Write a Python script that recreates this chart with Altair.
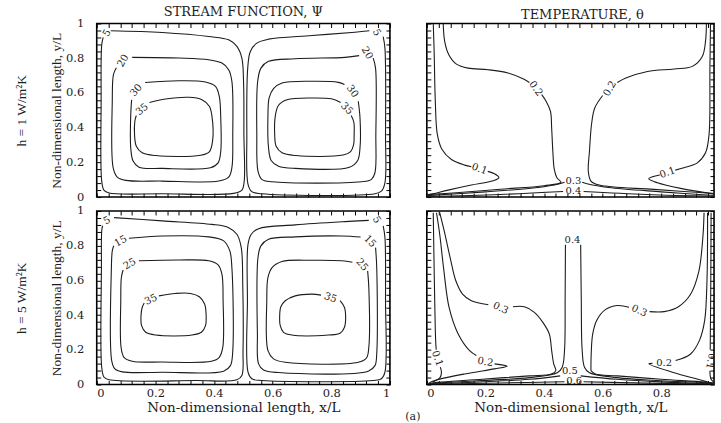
import altair as alt
import pandas as pd

# ---------------------------------------------------------------------------
# Axis ticks (non-dimensional coordinates)
MAJOR_TICKS = [0, 0.2, 0.4, 0.6, 0.8, 1]
MINOR_TICKS = [round(k * 0.04, 2) for k in range(26)]

# ---------------------------------------------------------------------------
# Stream function, h = 1 W/m2K  (left cell, right cell)  -- (x/L, y/L) points
psi1_l5 = [(0.048, 0.958), (0.223, 0.948), (0.382, 0.925), (0.450, 0.906), (0.478, 0.868),
           (0.495, 0.801), (0.501, 0.648), (0.502, 0.360), (0.503, 0.092), (0.495, 0.040),
           (0.467, 0.021), (0.223, 0.019), (0.042, 0.023), (0.025, 0.038), (0.017, 0.092),
           (0.015, 0.552), (0.017, 0.877), (0.022, 0.920)]
psi1_l20 = [(0.121, 0.805), (0.280, 0.801), (0.382, 0.791), (0.427, 0.772), (0.450, 0.734),
            (0.461, 0.667), (0.464, 0.360), (0.461, 0.169), (0.450, 0.115), (0.416, 0.092),
            (0.223, 0.092), (0.099, 0.096), (0.070, 0.115), (0.056, 0.169), (0.053, 0.552),
            (0.057, 0.705), (0.067, 0.745)]
psi1_l30 = [(0.165, 0.660), (0.280, 0.670), (0.371, 0.663), (0.405, 0.638), (0.418, 0.580),
            (0.423, 0.456), (0.423, 0.264), (0.414, 0.197), (0.388, 0.169), (0.223, 0.165),
            (0.144, 0.172), (0.124, 0.207), (0.116, 0.284), (0.116, 0.475), (0.119, 0.560)]
psi1_l35 = [(0.180, 0.545), (0.235, 0.565), (0.314, 0.575), (0.359, 0.561), (0.384, 0.523),
            (0.393, 0.466), (0.395, 0.322), (0.384, 0.261), (0.354, 0.241), (0.201, 0.239),
            (0.155, 0.255), (0.135, 0.293), (0.129, 0.360), (0.130, 0.437), (0.135, 0.470)]
psi1_r5 = [(0.977, 0.925), (0.983, 0.858), (0.985, 0.360), (0.983, 0.082), (0.971, 0.034),
           (0.949, 0.019), (0.563, 0.019), (0.529, 0.031), (0.516, 0.073), (0.512, 0.360),
           (0.515, 0.743), (0.524, 0.839), (0.546, 0.887), (0.586, 0.910), (0.734, 0.931),
           (0.881, 0.950), (0.930, 0.958)]
psi1_r20 = [(0.943, 0.801), (0.951, 0.743), (0.952, 0.360), (0.949, 0.140), (0.937, 0.102),
            (0.903, 0.088), (0.598, 0.088), (0.563, 0.102), (0.550, 0.149), (0.546, 0.360),
            (0.549, 0.667), (0.560, 0.743), (0.586, 0.782), (0.677, 0.797), (0.847, 0.805),
            (0.895, 0.815)]
psi1_r30 = [(0.892, 0.552), (0.898, 0.456), (0.898, 0.284), (0.890, 0.211), (0.862, 0.172),
            (0.677, 0.165), (0.620, 0.178), (0.595, 0.211), (0.586, 0.284), (0.584, 0.475),
            (0.588, 0.571), (0.603, 0.625), (0.632, 0.657), (0.734, 0.667), (0.824, 0.661),
            (0.845, 0.648)]
psi1_r35 = [(0.868, 0.470), (0.877, 0.430), (0.878, 0.360), (0.876, 0.300), (0.866, 0.262),
            (0.840, 0.242), (0.680, 0.239), (0.632, 0.255), (0.612, 0.293), (0.607, 0.360),
            (0.609, 0.466), (0.620, 0.529), (0.649, 0.561), (0.734, 0.571), (0.800, 0.566),
            (0.832, 0.545)]
psi1_labels = [("5", 0.035, 0.945, 300), ("20", 0.090, 0.785, 300), ("30", 0.135, 0.615, 310),
               ("35", 0.155, 0.505, 320), ("5", 0.955, 0.948, 60), ("20", 0.922, 0.830, 60),
               ("30", 0.872, 0.610, 55), ("35", 0.853, 0.510, 45)]

# Stream function, h = 5 W/m2K
psi5_l5 = [(0.059, 0.962), (0.223, 0.943), (0.393, 0.923), (0.450, 0.904), (0.478, 0.866),
           (0.493, 0.789), (0.498, 0.579), (0.499, 0.195), (0.495, 0.052), (0.478, 0.027),
           (0.337, 0.023), (0.042, 0.027), (0.025, 0.042), (0.017, 0.100), (0.016, 0.674),
           (0.017, 0.885), (0.020, 0.915)]
psi5_l15 = [(0.110, 0.843), (0.223, 0.856), (0.382, 0.851), (0.433, 0.828), (0.454, 0.770),
            (0.461, 0.674), (0.464, 0.195), (0.456, 0.109), (0.433, 0.077), (0.223, 0.071),
            (0.087, 0.073), (0.062, 0.090), (0.051, 0.138), (0.050, 0.674), (0.053, 0.770),
            (0.058, 0.800)]
psi5_l25 = [(0.144, 0.713), (0.280, 0.718), (0.382, 0.713), (0.414, 0.690), (0.427, 0.636),
            (0.431, 0.483), (0.430, 0.215), (0.418, 0.157), (0.391, 0.134), (0.223, 0.130),
            (0.121, 0.134), (0.093, 0.157), (0.083, 0.215), (0.082, 0.483), (0.084, 0.617),
            (0.090, 0.660)]
psi5_l35 = [(0.212, 0.511), (0.269, 0.525), (0.320, 0.525), (0.350, 0.506), (0.368, 0.464),
            (0.373, 0.406), (0.371, 0.339), (0.357, 0.301), (0.325, 0.285), (0.201, 0.285),
            (0.167, 0.301), (0.153, 0.339), (0.151, 0.397), (0.155, 0.444), (0.162, 0.470)]
psi5_r5 = [(0.977, 0.914), (0.983, 0.847), (0.985, 0.483), (0.983, 0.071), (0.971, 0.033),
           (0.943, 0.023), (0.563, 0.023), (0.529, 0.033), (0.516, 0.071), (0.514, 0.483),
           (0.516, 0.808), (0.527, 0.866), (0.552, 0.898), (0.677, 0.920), (0.847, 0.939),
           (0.928, 0.946)]
psi5_r15 = [(0.951, 0.789), (0.955, 0.674), (0.955, 0.176), (0.949, 0.109), (0.926, 0.077),
            (0.620, 0.069), (0.569, 0.084), (0.552, 0.119), (0.548, 0.291), (0.550, 0.732),
            (0.560, 0.799), (0.586, 0.837), (0.677, 0.851), (0.836, 0.856), (0.900, 0.850)]
psi5_r25 = [(0.924, 0.655), (0.928, 0.559), (0.928, 0.215), (0.920, 0.153), (0.892, 0.128),
            (0.643, 0.128), (0.603, 0.148), (0.584, 0.195), (0.580, 0.483), (0.584, 0.617),
            (0.598, 0.674), (0.632, 0.709), (0.734, 0.716), (0.836, 0.713), (0.872, 0.705)]
psi5_r35 = [(0.830, 0.483), (0.845, 0.444), (0.849, 0.387), (0.845, 0.330), (0.830, 0.295),
            (0.790, 0.285), (0.666, 0.285), (0.637, 0.301), (0.626, 0.339), (0.624, 0.397),
            (0.628, 0.448), (0.643, 0.483), (0.677, 0.511), (0.734, 0.521), (0.765, 0.515)]
psi5_labels = [("5", 0.035, 0.945, 330), ("15", 0.082, 0.826, 330), ("25", 0.113, 0.695, 330),
               ("35", 0.185, 0.490, 335), ("5", 0.955, 0.950, 60), ("15", 0.932, 0.825, 45),
               ("25", 0.905, 0.690, 50), ("35", 0.797, 0.500, 20)]

# Temperature, h = 1 W/m2K
th1_01_la = [(0.022, 1.0), (0.025, 0.84), (0.029, 0.55), (0.036, 0.36), (0.052, 0.274),
             (0.084, 0.216), (0.129, 0.184), (0.152, 0.175)]
th1_01_lb = [(0.208, 0.148), (0.231, 0.134), (0.246, 0.112), (0.226, 0.094), (0.152, 0.069),
             (0.073, 0.040), (0.016, 0.017), (0.0, 0.012)]
th1_02_la = [(0.056, 1.0), (0.061, 0.897), (0.075, 0.820), (0.101, 0.766), (0.141, 0.743),
             (0.209, 0.734), (0.277, 0.715), (0.330, 0.680), (0.350, 0.660)]
th1_02_lb = [(0.392, 0.590), (0.407, 0.552), (0.422, 0.494), (0.426, 0.398), (0.430, 0.264),
             (0.435, 0.159), (0.444, 0.111), (0.458, 0.085), (0.400, 0.065), (0.250, 0.045),
             (0.100, 0.025), (0.0, 0.014)]
th1_02_ra = [(0.954, 1.0), (0.951, 0.897), (0.940, 0.810), (0.906, 0.753), (0.844, 0.738),
             (0.753, 0.724), (0.679, 0.686), (0.650, 0.660)]
th1_02_rb = [(0.600, 0.585), (0.573, 0.513), (0.562, 0.418), (0.555, 0.264), (0.551, 0.149),
             (0.560, 0.092), (0.588, 0.069), (0.775, 0.044), (0.990, 0.020)]
th1_01_ra = [(0.968, 1.0), (0.966, 0.743), (0.963, 0.360), (0.951, 0.255), (0.923, 0.197),
             (0.877, 0.169), (0.848, 0.155)]
th1_01_rb = [(0.795, 0.127), (0.770, 0.117), (0.757, 0.105), (0.787, 0.082), (0.866, 0.050),
             (0.990, 0.015)]
th1_03_l = [(0.0, 0.008), (0.200, 0.030), (0.380, 0.055), (0.450, 0.075), (0.470, 0.085)]
th1_03_r = [(0.530, 0.085), (0.550, 0.075), (0.620, 0.055), (0.800, 0.030), (0.990, 0.008)]
th1_04_l = [(0.0, 0.004), (0.250, 0.015), (0.465, 0.032)]
th1_04_r = [(0.535, 0.032), (0.750, 0.015), (0.990, 0.004)]
th1_labels = [("0.1", 0.180, 0.162, 20), ("0.2", 0.372, 0.625, 55), ("0.2", 0.625, 0.625, 300),
              ("0.1", 0.821, 0.140, 340), ("0.3", 0.500, 0.092, 0), ("0.4", 0.500, 0.034, 0)]

# Temperature, h = 5 W/m2K
th5_01_la = [(0.022, 0.99), (0.024, 0.77), (0.027, 0.48), (0.030, 0.26), (0.032, 0.20)]
th5_01_lb = [(0.046, 0.10), (0.050, 0.07), (0.045, 0.040), (0.020, 0.015)]
th5_02_la = [(0.033, 0.990), (0.044, 0.866), (0.057, 0.674), (0.076, 0.444), (0.107, 0.291),
             (0.146, 0.195), (0.169, 0.167)]
th5_02_lb = [(0.231, 0.119), (0.274, 0.105), (0.231, 0.090), (0.129, 0.061), (0.027, 0.023),
             (0.007, 0.008)]
th5_03_la = [(0.044, 0.990), (0.062, 0.866), (0.082, 0.713), (0.099, 0.598), (0.122, 0.521),
             (0.152, 0.483), (0.210, 0.460)]
th5_03_lb = [(0.294, 0.448), (0.333, 0.448), (0.367, 0.416), (0.396, 0.358), (0.418, 0.291),
             (0.426, 0.195), (0.433, 0.119), (0.440, 0.080), (0.425, 0.060), (0.350, 0.050),
             (0.200, 0.032), (0.050, 0.014), (0.005, 0.006)]
th5_03_ra = [(0.560, 0.080), (0.561, 0.180), (0.566, 0.290), (0.580, 0.370), (0.608, 0.430),
             (0.650, 0.455), (0.690, 0.445)]
th5_03_rb = [(0.760, 0.420), (0.810, 0.420), (0.860, 0.450), (0.900, 0.520), (0.928, 0.650),
             (0.942, 0.850), (0.946, 0.990)]
th5_03_rc = [(0.560, 0.080), (0.575, 0.060), (0.650, 0.050), (0.800, 0.030), (0.950, 0.014),
             (0.990, 0.006)]
th5_02_ra = [(0.958, 0.990), (0.956, 0.600), (0.948, 0.368), (0.930, 0.253), (0.900, 0.176),
             (0.849, 0.138)]
th5_02_rb = [(0.770, 0.122), (0.758, 0.119), (0.838, 0.071), (0.940, 0.023), (0.975, 0.006)]
th5_01_ra = [(0.970, 0.990), (0.969, 0.600), (0.967, 0.200)]
th5_01_rb = [(0.966, 0.080), (0.970, 0.030), (0.982, 0.010)]
th5_04_l = [(0.473, 0.805), (0.472, 0.500), (0.470, 0.200), (0.462, 0.100), (0.445, 0.068),
            (0.350, 0.040), (0.200, 0.024), (0.050, 0.010), (0.005, 0.004)]
th5_04_r = [(0.525, 0.805), (0.527, 0.500), (0.530, 0.200), (0.538, 0.100), (0.555, 0.068),
            (0.650, 0.040), (0.800, 0.022), (0.950, 0.010), (0.990, 0.004)]
th5_05_l = [(0.010, 0.003), (0.200, 0.016), (0.350, 0.030), (0.455, 0.050)]
th5_05_r = [(0.525, 0.050), (0.650, 0.030), (0.800, 0.015), (0.990, 0.003)]
th5_06_l = [(0.020, 0.002), (0.250, 0.009), (0.470, 0.016)]
th5_06_r = [(0.535, 0.016), (0.750, 0.008), (0.990, 0.002)]
th5_labels = [("0.1", 0.036, 0.150, 70), ("0.2", 0.200, 0.130, 10), ("0.3", 0.252, 0.440, 25),
              ("0.4", 0.497, 0.835, 0), ("0.3", 0.725, 0.425, 25), ("0.2", 0.810, 0.125, 0),
              ("0.1", 0.968, 0.135, 100), ("0.5", 0.488, 0.078, 0), ("0.6", 0.503, 0.022, 0)]

# ---------------------------------------------------------------------------
SERIF_WIDE = "DejaVu Serif"
SERIF = "Liberation Serif"
INK = "#1c1c1c"
PANEL_W, PANEL_H = 294, 174
RIGHT_W = 288  # the temperature panels run off the right edge of the figure


def path_table(paths):
    rows = []
    for pid, pts in enumerate(paths):
        for k, (x, y) in enumerate(pts):
            rows.append({"path": pid, "k": k, "x": x, "y": y})
    return pd.DataFrame(rows)


def label_table(labels):
    return pd.DataFrame(labels, columns=["text", "x", "y", "angle"])


LABEL_EXPR = "round(datum.value * 100) % 20 == 0 ? format(datum.value, '.1~f') : ''"


def panel(paths, labels, width, x_labels, y_title, title):
    xmax = round(width / PANEL_W, 3)
    ticks = [t for t in MINOR_TICKS if t <= xmax]
    xs = alt.Scale(domain=[0, xmax], nice=False, zero=False)
    ys = alt.Scale(domain=[0, 1], nice=False, zero=False)

    x_bottom = alt.Axis(orient="bottom", values=ticks, tickSize=4, offset=-4, domain=False,
                        grid=False, labels=x_labels, labelExpr=LABEL_EXPR, labelOverlap=False,
                        labelPadding=3, labelFont=SERIF_WIDE, labelFontSize=11.5,
                        title="Non-dimensional length, x/L" if x_labels else None,
                        titleFont=SERIF_WIDE, titleFontSize=13.5, titleFontWeight="normal",
                        titlePadding=2)
    y_left = alt.Axis(orient="left", values=MINOR_TICKS, tickSize=4, offset=-4, domain=False,
                      grid=False, labels=y_title is not None, labelExpr=LABEL_EXPR,
                      labelOverlap=False, labelPadding=13, labelFont=SERIF_WIDE,
                      labelFontSize=11.5, title=y_title, titleFont=SERIF, titleFontSize=13.5,
                      titleFontWeight="normal", titleLineHeight=35, titlePadding=2)
    x_top = alt.Axis(orient="top", values=ticks, tickSize=4, offset=-4, domain=False,
                     grid=False, labels=False, title=None)
    y_right = alt.Axis(orient="right", values=MINOR_TICKS, tickSize=4, offset=-4, domain=False,
                       grid=False, labels=False, title=None)

    lines = alt.Chart(path_table(paths)).mark_line(
        interpolate="catmull-rom", strokeWidth=1.1, color=INK, clip=True
    ).encode(
        x=alt.X("x:Q", scale=xs, axis=x_bottom),
        y=alt.Y("y:Q", scale=ys, axis=y_left),
        detail="path:N",
        order="k:Q",
    )
    texts = alt.Chart(label_table(labels)).mark_text(
        font=SERIF_WIDE, fontSize=10, color=INK, clip=True
    ).encode(
        x=alt.X("x:Q", scale=xs, axis=None),
        y=alt.Y("y:Q", scale=ys, axis=None),
        text="text:N",
        angle=alt.Angle("angle:Q", scale=None),
    )
    frame = alt.Chart(path_table(paths)).mark_point(opacity=0).encode(
        x=alt.X("x:Q", scale=xs, axis=x_top),
        y=alt.Y("y:Q", scale=ys, axis=y_right),
    )
    chart = alt.layer(lines, texts, frame).resolve_axis(x="independent", y="independent")
    props = dict(width=width, height=PANEL_H)
    if title is not None:
        props["title"] = title
    return chart.properties(**props)


def top_title(text, dx=0):
    return alt.TitleParams(text, font=SERIF_WIDE, fontSize=13, fontWeight="normal",
                           color=INK, anchor="middle", offset=-1, dx=dx)


psi_top = panel([psi1_l5, psi1_l20, psi1_l30, psi1_l35, psi1_r5, psi1_r20, psi1_r30, psi1_r35],
                psi1_labels, PANEL_W, False,
                ["h = 1 W/m\u00b2K", "Non-dimensional length, y/L"],
                top_title("STREAM FUNCTION, \u03a8"))
th_top = panel([th1_01_la, th1_01_lb, th1_02_la, th1_02_lb, th1_02_ra, th1_02_rb, th1_01_ra,
                th1_01_rb, th1_03_l, th1_03_r, th1_04_l, th1_04_r],
               th1_labels, RIGHT_W, False, None, top_title("TEMPERATURE, \u03b8", dx=12))
psi_bot = panel([psi5_l5, psi5_l15, psi5_l25, psi5_l35, psi5_r5, psi5_r15, psi5_r25, psi5_r35],
                psi5_labels, PANEL_W, True,
                ["h = 5 W/m\u00b2K", "Non-dimensional length, y/L"], None)
th_bot = panel([th5_01_la, th5_01_lb, th5_02_la, th5_02_lb, th5_03_la, th5_03_lb, th5_03_ra,
                th5_03_rb, th5_03_rc, th5_02_ra, th5_02_rb, th5_01_ra, th5_01_rb, th5_04_l,
                th5_04_r, th5_05_l, th5_05_r, th5_06_l, th5_06_r],
               th5_labels, RIGHT_W, True, None,
               alt.TitleParams("(a)", orient="bottom", anchor="start", frame="group",
                               align="center", dx=-14, offset=-3, font=SERIF_WIDE,
                               fontSize=11, fontWeight="normal", color=INK))

chart = alt.concat(
    psi_top, th_top, psi_bot, th_bot,
    columns=2,
    spacing={"row": 14, "column": 37},
    bounds="flush",
).properties(
    padding={"left": 13, "top": 4, "right": 0, "bottom": 0},
    background="white",
).configure_view(
    stroke="black", strokeWidth=1.6
).configure_axis(
    tickColor="black", tickWidth=1, labelColor=INK, titleColor=INK
)

chart.save("out.html", embed_options={"renderer": "svg", "actions": False})
